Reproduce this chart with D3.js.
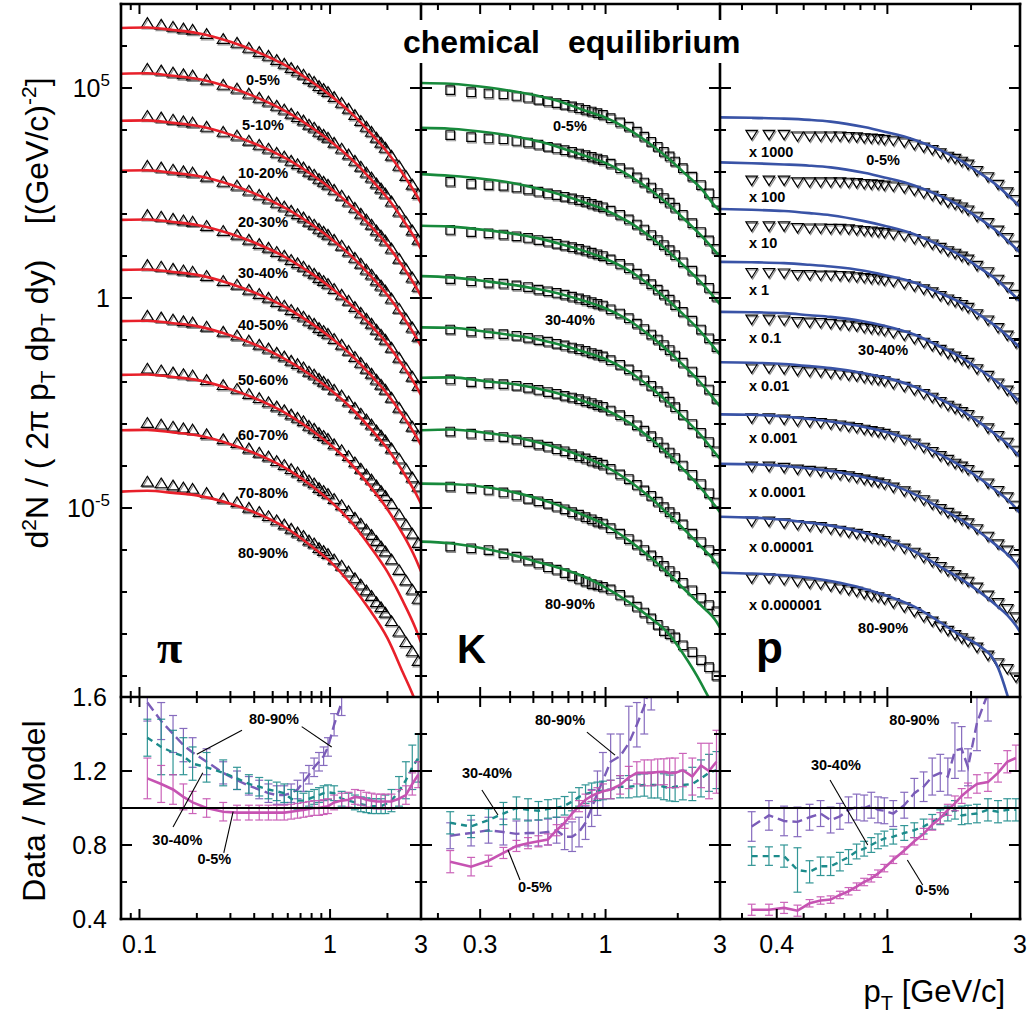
<!DOCTYPE html>
<html><head><meta charset="utf-8">
<script src="https://cdn.jsdelivr.net/npm/d3@7/dist/d3.min.js"></script>
<style>
html,body{margin:0;padding:0;background:#fff}
svg{display:block}
text{font-family:"Liberation Sans",Arial,Helvetica,sans-serif;fill:#000}
</style></head><body>
<svg id="chart" width="1031" height="1016"></svg>
<script>
// ================= DATA (spectra values stored as log10 of dN/(2pi pT dpT dy)) =================
const centralities = ["0-5%","5-10%","10-20%","20-30%","30-40%","40-50%","50-60%","60-70%","70-80%","80-90%"];
const pScaleFactors = ["x 1000","x 100","x 10","x 1","x 0.1","x 0.01","x 0.001","x 0.0001","x 0.00001","x 0.000001"];
const piTickLabels = [0.1, 1, 3];
const kTickLabels = [0.3, 1, 3];
const pTickLabels = [0.4, 1, 3];
const ratioTicks = [0.4, 0.8, 1.2, 1.6];
const spectraTickExp = [5, 0, -5];

const piPt = [0.11,0.13,0.15,0.17,0.19,0.225,0.275,0.325,0.375,0.425,0.475,0.525,0.575,0.625,0.675,0.725,0.775,0.825,0.875,0.925,0.975,1.05,1.15,1.25,1.35,1.45,1.55,1.65,1.75,1.85,1.95,2.1,2.3,2.5,2.7,2.9];
const kPt = [0.225,0.275,0.325,0.375,0.425,0.475,0.525,0.575,0.625,0.675,0.725,0.775,0.825,0.875,0.925,0.975,1.05,1.15,1.25,1.35,1.45,1.55,1.65,1.75,1.85,1.95,2.1,2.3,2.5,2.7,2.9];
const pPt = [0.325,0.375,0.425,0.475,0.525,0.575,0.625,0.675,0.725,0.775,0.825,0.875,0.925,0.975,1.05,1.15,1.25,1.35,1.45,1.55,1.65,1.75,1.85,1.95,2.1,2.3,2.5,2.7,2.9];

const piSpectra = [
 [6.52,6.48,6.43,6.39,6.36,6.26,6.14,6.05,5.93,5.83,5.74,5.64,5.55,5.45,5.37,5.29,5.19,5.12,5.02,4.95,4.88,4.76,4.62,4.48,4.33,4.19,4.05,3.93,3.79,3.67,3.55,3.36,3.12,2.88,2.67,2.45],
 [5.43,5.39,5.34,5.30,5.27,5.17,5.05,4.96,4.84,4.74,4.65,4.55,4.46,4.36,4.28,4.20,4.10,4.03,3.93,3.86,3.79,3.67,3.53,3.39,3.24,3.10,2.96,2.84,2.70,2.58,2.46,2.27,2.03,1.79,1.58,1.36],
 [4.31,4.27,4.22,4.18,4.15,4.05,3.93,3.84,3.72,3.62,3.53,3.43,3.34,3.24,3.16,3.08,2.98,2.91,2.81,2.74,2.67,2.55,2.41,2.27,2.12,1.98,1.84,1.72,1.58,1.46,1.34,1.15,0.91,0.67,0.46,0.24],
 [3.12,3.08,3.03,2.99,2.96,2.86,2.74,2.65,2.53,2.43,2.34,2.24,2.15,2.05,1.97,1.89,1.79,1.72,1.62,1.55,1.48,1.36,1.22,1.08,0.93,0.79,0.65,0.53,0.39,0.27,0.15,-0.04,-0.28,-0.52,-0.73,-0.95],
 [1.95,1.91,1.86,1.82,1.79,1.69,1.57,1.48,1.36,1.26,1.17,1.07,0.98,0.88,0.80,0.72,0.62,0.55,0.45,0.38,0.31,0.19,0.05,-0.09,-0.24,-0.38,-0.52,-0.64,-0.78,-0.90,-1.02,-1.21,-1.45,-1.69,-1.90,-2.12],
 [0.76,0.72,0.67,0.63,0.60,0.50,0.38,0.29,0.17,0.07,-0.02,-0.12,-0.21,-0.31,-0.39,-0.47,-0.57,-0.64,-0.74,-0.81,-0.88,-1.00,-1.14,-1.28,-1.43,-1.57,-1.71,-1.83,-1.97,-2.09,-2.21,-2.40,-2.64,-2.88,-3.09,-3.31],
 [-0.45,-0.49,-0.54,-0.58,-0.61,-0.71,-0.83,-0.92,-1.04,-1.14,-1.23,-1.33,-1.42,-1.52,-1.60,-1.68,-1.78,-1.85,-1.95,-2.02,-2.09,-2.21,-2.35,-2.49,-2.64,-2.78,-2.92,-3.04,-3.18,-3.30,-3.42,-3.61,-3.85,-4.09,-4.30,-4.52],
 [-1.71,-1.75,-1.80,-1.84,-1.87,-1.98,-2.10,-2.19,-2.31,-2.41,-2.51,-2.61,-2.70,-2.80,-2.88,-2.96,-3.07,-3.14,-3.24,-3.31,-3.38,-3.51,-3.65,-3.79,-3.94,-4.09,-4.23,-4.35,-4.49,-4.62,-4.74,-4.93,-5.18,-5.42,-5.64,-5.86],
 [-3.00,-3.04,-3.09,-3.13,-3.16,-3.27,-3.39,-3.48,-3.61,-3.71,-3.80,-3.91,-4.00,-4.10,-4.18,-4.27,-4.37,-4.44,-4.55,-4.62,-4.69,-4.81,-4.96,-5.10,-5.26,-5.40,-5.54,-5.67,-5.81,-5.94,-6.06,-6.25,-6.50,-6.75,-6.97,-7.19],
 [-4.40,-4.44,-4.49,-4.54,-4.57,-4.67,-4.80,-4.89,-5.02,-5.12,-5.22,-5.32,-5.42,-5.52,-5.61,-5.69,-5.80,-5.87,-5.98,-6.05,-6.12,-6.25,-6.40,-6.54,-6.70,-6.85,-6.99,-7.12,-7.27,-7.39,-7.52,-7.72,-7.97,-8.22,-8.44,-8.67]
];
const kSpectra = [
 [4.95,4.90,4.87,4.85,4.81,4.77,4.72,4.68,4.64,4.60,4.56,4.52,4.48,4.44,4.40,4.36,4.28,4.18,4.08,3.96,3.84,3.72,3.60,3.48,3.37,3.25,3.09,2.89,2.69,2.49,2.29],
 [3.88,3.83,3.80,3.78,3.74,3.70,3.65,3.60,3.56,3.52,3.48,3.44,3.40,3.36,3.32,3.28,3.20,3.09,2.99,2.87,2.75,2.63,2.50,2.38,2.27,2.15,1.98,1.78,1.57,1.37,1.17],
 [2.77,2.72,2.69,2.67,2.63,2.58,2.53,2.49,2.45,2.41,2.37,2.33,2.29,2.24,2.20,2.16,2.08,1.98,1.87,1.75,1.63,1.50,1.38,1.26,1.14,1.02,0.85,0.65,0.44,0.24,0.03],
 [1.62,1.57,1.54,1.51,1.47,1.43,1.38,1.34,1.29,1.25,1.21,1.17,1.13,1.08,1.04,1.00,0.92,0.81,0.71,0.58,0.45,0.33,0.20,0.08,-0.04,-0.17,-0.33,-0.54,-0.75,-0.96,-1.17],
 [0.45,0.40,0.36,0.34,0.30,0.26,0.20,0.16,0.12,0.08,0.03,-0.01,-0.05,-0.10,-0.14,-0.18,-0.27,-0.37,-0.48,-0.61,-0.74,-0.87,-0.99,-1.12,-1.24,-1.37,-1.54,-1.75,-1.97,-2.18,-2.40],
 [-0.75,-0.80,-0.84,-0.86,-0.90,-0.95,-1.00,-1.04,-1.09,-1.13,-1.18,-1.22,-1.26,-1.31,-1.35,-1.39,-1.48,-1.59,-1.70,-1.83,-1.96,-2.09,-2.22,-2.35,-2.47,-2.60,-2.78,-3.00,-3.21,-3.43,-3.65],
 [-1.94,-2.00,-2.03,-2.05,-2.09,-2.14,-2.19,-2.24,-2.28,-2.33,-2.37,-2.41,-2.46,-2.50,-2.55,-2.59,-2.68,-2.79,-2.90,-3.03,-3.16,-3.29,-3.43,-3.56,-3.68,-3.81,-3.99,-4.21,-4.43,-4.65,-4.87],
 [-3.18,-3.23,-3.27,-3.31,-3.37,-3.43,-3.49,-3.54,-3.60,-3.65,-3.72,-3.77,-3.82,-3.88,-3.92,-3.97,-4.07,-4.20,-4.31,-4.45,-4.58,-4.71,-4.85,-4.98,-5.10,-5.22,-5.39,-5.61,-5.81,-6.00,-6.19],
 [-4.49,-4.53,-4.57,-4.63,-4.70,-4.78,-4.84,-4.90,-4.97,-5.03,-5.10,-5.16,-5.22,-5.27,-5.33,-5.37,-5.48,-5.61,-5.74,-5.87,-6.00,-6.13,-6.26,-6.38,-6.50,-6.62,-6.78,-6.96,-7.14,-7.31,-7.46],
 [-5.92,-5.96,-6.00,-6.08,-6.16,-6.25,-6.32,-6.41,-6.47,-6.55,-6.62,-6.69,-6.75,-6.81,-6.84,-6.88,-6.94,-7.07,-7.20,-7.35,-7.49,-7.63,-7.78,-7.93,-8.00,-8.08,-8.27,-8.43,-8.62,-8.79,-8.99]
];
const pSpectra = [
 [3.92,3.92,3.92,3.88,3.88,3.88,3.88,3.88,3.87,3.86,3.84,3.83,3.82,3.80,3.78,3.74,3.68,3.62,3.56,3.48,3.40,3.35,3.28,3.21,3.06,2.91,2.73,2.55,2.37],
 [2.83,2.83,2.83,2.79,2.79,2.79,2.79,2.79,2.78,2.77,2.75,2.74,2.73,2.71,2.69,2.65,2.59,2.53,2.47,2.39,2.31,2.26,2.19,2.12,1.97,1.82,1.64,1.46,1.28],
 [1.74,1.74,1.74,1.70,1.69,1.69,1.68,1.68,1.67,1.65,1.63,1.62,1.60,1.58,1.55,1.51,1.44,1.38,1.31,1.23,1.15,1.09,1.02,0.95,0.80,0.65,0.47,0.29,0.11],
 [0.63,0.63,0.62,0.58,0.58,0.57,0.57,0.56,0.55,0.53,0.51,0.49,0.48,0.45,0.42,0.37,0.31,0.24,0.17,0.08,0.00,-0.06,-0.13,-0.20,-0.35,-0.50,-0.68,-0.86,-1.04],
 [-0.48,-0.48,-0.50,-0.54,-0.55,-0.56,-0.58,-0.60,-0.62,-0.64,-0.68,-0.70,-0.72,-0.75,-0.80,-0.86,-0.94,-1.03,-1.11,-1.20,-1.29,-1.36,-1.44,-1.51,-1.66,-1.82,-2.00,-2.17,-2.35],
 [-1.64,-1.64,-1.66,-1.70,-1.72,-1.73,-1.76,-1.78,-1.81,-1.83,-1.87,-1.90,-1.92,-1.95,-2.01,-2.08,-2.16,-2.25,-2.34,-2.44,-2.53,-2.60,-2.68,-2.75,-2.90,-3.07,-3.25,-3.41,-3.60],
 [-2.83,-2.83,-2.86,-2.90,-2.92,-2.94,-2.97,-3.00,-3.03,-3.06,-3.10,-3.13,-3.16,-3.20,-3.26,-3.34,-3.43,-3.53,-3.63,-3.73,-3.82,-3.91,-3.98,-4.06,-4.20,-4.38,-4.56,-4.71,-4.91],
 [-3.98,-3.98,-4.01,-4.05,-4.08,-4.10,-4.14,-4.18,-4.21,-4.25,-4.29,-4.33,-4.36,-4.40,-4.48,-4.57,-4.67,-4.78,-4.88,-4.99,-5.08,-5.17,-5.25,-5.33,-5.47,-5.65,-5.83,-5.98,-6.18],
 [-5.29,-5.29,-5.33,-5.37,-5.40,-5.42,-5.47,-5.51,-5.55,-5.58,-5.63,-5.68,-5.71,-5.75,-5.84,-5.93,-6.03,-6.15,-6.25,-6.37,-6.47,-6.56,-6.64,-6.72,-6.86,-7.05,-7.23,-7.37,-7.57],
 [-6.64,-6.64,-6.68,-6.72,-6.76,-6.78,-6.83,-6.88,-6.92,-6.96,-7.01,-7.06,-7.09,-7.14,-7.23,-7.33,-7.44,-7.56,-7.67,-7.79,-7.89,-7.99,-8.07,-8.15,-8.29,-8.48,-8.66,-8.80,-9.00]
];

// model (chemical equilibrium) curves, log10 values
const piModelPt = [0.08,0.11,0.15,0.2,0.3,0.4,0.6,0.8,1.0,1.3,1.6,2.0,2.4,2.8,3.0];
const kModelPt = [0.17,0.225,0.325,0.425,0.525,0.625,0.825,0.975,1.25,1.55,1.85,2.1,2.5,2.9,3.0];
const pModelPt = [0.25,0.325,0.425,0.525,0.625,0.825,0.975,1.25,1.55,1.85,2.1,2.5,2.7,2.9,3.0];
const piModel = [
 [6.43,6.44,6.38,6.31,6.10,5.89,5.51,5.15,4.83,4.39,3.97,3.47,2.97,2.50,2.26],
 [5.34,5.35,5.29,5.22,5.01,4.80,4.42,4.06,3.74,3.30,2.88,2.38,1.88,1.41,1.17],
 [4.22,4.23,4.17,4.10,3.89,3.68,3.30,2.94,2.62,2.18,1.76,1.26,0.76,0.29,0.05],
 [3.03,3.04,2.98,2.91,2.70,2.49,2.11,1.75,1.43,0.99,0.57,0.07,-0.43,-0.90,-1.14],
 [1.86,1.87,1.81,1.74,1.53,1.32,0.94,0.58,0.26,-0.18,-0.60,-1.10,-1.60,-2.07,-2.31],
 [0.67,0.68,0.62,0.55,0.34,0.13,-0.25,-0.61,-0.93,-1.37,-1.79,-2.29,-2.79,-3.26,-3.50],
 [-0.55,-0.54,-0.60,-0.67,-0.89,-1.10,-1.49,-1.85,-2.18,-2.63,-3.07,-3.59,-4.12,-4.63,-4.90],
 [-1.83,-1.82,-1.88,-1.95,-2.17,-2.38,-2.77,-3.15,-3.49,-3.97,-4.45,-5.03,-5.61,-6.19,-6.51],
 [-3.15,-3.14,-3.20,-3.27,-3.48,-3.69,-4.08,-4.47,-4.83,-5.35,-5.88,-6.52,-7.20,-7.85,-8.20],
 [-4.61,-4.59,-4.64,-4.70,-4.90,-5.10,-5.50,-5.91,-6.27,-6.85,-7.40,-8.10,-8.90,-9.60,-10.00]
];
const kModel = [
 [5.12,5.10,5.01,4.91,4.81,4.70,4.46,4.32,4.01,3.65,3.30,3.01,2.61,2.15,2.07],
 [4.05,4.03,3.94,3.84,3.73,3.61,3.38,3.24,2.92,2.56,2.20,1.91,1.49,1.08,0.98],
 [2.95,2.91,2.82,2.72,2.60,2.49,2.27,2.12,1.81,1.44,1.08,0.79,0.37,-0.05,-0.15],
 [1.72,1.70,1.61,1.52,1.42,1.31,1.11,0.96,0.66,0.28,-0.09,-0.38,-0.81,-1.25,-1.35],
 [0.52,0.49,0.39,0.30,0.21,0.12,-0.08,-0.22,-0.53,-0.92,-1.29,-1.59,-2.03,-2.48,-2.58],
 [-0.70,-0.71,-0.81,-0.90,-0.99,-1.09,-1.29,-1.43,-1.75,-2.14,-2.52,-2.83,-3.27,-3.73,-3.83],
 [-1.90,-1.89,-1.99,-2.06,-2.16,-2.26,-2.47,-2.63,-2.96,-3.36,-3.75,-4.07,-4.53,-4.99,-5.10],
 [-3.15,-3.13,-3.22,-3.32,-3.44,-3.56,-3.80,-3.98,-4.35,-4.77,-5.18,-5.48,-5.92,-6.32,-6.45],
 [-4.42,-4.43,-4.51,-4.64,-4.78,-4.92,-5.19,-5.37,-5.77,-6.19,-6.59,-6.90,-7.32,-7.71,-7.85],
 [-5.80,-5.84,-5.99,-6.14,-6.29,-6.41,-6.65,-6.86,-7.24,-7.63,-8.02,-8.46,-9.17,-9.93,-10.17]
];
const pModel = [
 [4.30,4.29,4.27,4.24,4.20,4.07,3.96,3.77,3.52,3.26,3.02,2.66,2.46,2.27,2.18],
 [3.23,3.21,3.18,3.15,3.11,2.98,2.87,2.68,2.43,2.17,1.93,1.57,1.37,1.18,1.09],
 [2.12,2.10,2.07,2.02,1.97,1.83,1.72,1.52,1.25,1.00,0.76,0.41,0.21,0.02,-0.07],
 [0.86,0.85,0.83,0.79,0.75,0.65,0.55,0.37,0.11,-0.12,-0.36,-0.71,-0.90,-1.09,-1.18],
 [-0.33,-0.34,-0.36,-0.41,-0.45,-0.56,-0.66,-0.87,-1.16,-1.42,-1.66,-2.01,-2.19,-2.38,-2.47],
 [-1.53,-1.54,-1.57,-1.62,-1.67,-1.79,-1.89,-2.11,-2.41,-2.68,-2.92,-3.29,-3.47,-3.68,-3.78],
 [-2.77,-2.78,-2.82,-2.88,-2.94,-3.07,-3.18,-3.42,-3.73,-4.01,-4.25,-4.62,-4.80,-5.00,-5.12],
 [-3.95,-3.96,-4.00,-4.06,-4.12,-4.27,-4.39,-4.67,-5.00,-5.29,-5.53,-5.92,-6.10,-6.32,-6.45],
 [-5.21,-5.23,-5.28,-5.35,-5.42,-5.59,-5.73,-6.03,-6.40,-6.70,-6.95,-7.35,-7.55,-7.80,-7.95],
 [-6.54,-6.56,-6.60,-6.66,-6.74,-6.92,-7.07,-7.35,-7.72,-8.05,-8.24,-8.80,-9.45,-10.2,-10.6]
];

// Data / Model ratios (value, error)
const piRatio05 = [1.16,1.13,1.10,1.06,1.03,1.00,0.98,0.975,0.975,0.975,0.975,0.975,0.975,0.98,0.985,0.99,0.995,1.0,1.0,1.005,1.01,1.03,1.04,1.045,1.06,1.055,1.045,1.04,1.035,1.035,1.035,1.035,1.05,1.07,1.13,1.18];
const piErr05 = [0.11,0.10,0.08,0.07,0.06,0.05,0.05,0.04,0.04,0.04,0.04,0.04,0.04,0.04,0.04,0.04,0.04,0.04,0.04,0.04,0.04,0.04,0.04,0.04,0.04,0.04,0.04,0.04,0.04,0.04,0.04,0.04,0.05,0.05,0.06,0.07];
const piRatio3040 = [1.38,1.33,1.30,1.28,1.24,1.22,1.19,1.16,1.13,1.115,1.10,1.09,1.08,1.05,1.04,1.04,1.05,1.06,1.07,1.08,1.085,1.08,1.05,1.04,1.03,1.02,1.015,1.01,1.01,1.01,1.02,1.04,1.09,1.15,1.22,1.27];
const piErr3040 = [0.10,0.15,0.12,0.10,0.09,0.08,0.07,0.06,0.05,0.05,0.05,0.05,0.05,0.05,0.05,0.04,0.04,0.04,0.04,0.04,0.04,0.04,0.04,0.04,0.04,0.04,0.04,0.04,0.04,0.04,0.05,0.06,0.08,0.10,0.12,0.13];
const piRatio8090 = [1.57,1.47,1.40,1.34,1.30,1.25,1.19,1.15,1.12,1.10,1.08,1.07,1.07,1.08,1.10,1.14,1.18,1.22,1.25,1.28,1.33,1.45,1.57];
const piErr8090 = [0.10,0.10,0.10,0.09,0.08,0.07,0.06,0.05,0.05,0.05,0.05,0.05,0.05,0.05,0.05,0.05,0.05,0.05,0.05,0.05,0.05,0.06,0.07];
const kRatio05 = [0.71,0.683,0.715,0.757,0.795,0.81,0.82,0.83,0.88,0.92,0.97,1.01,1.045,1.065,1.08,1.09,1.10,1.125,1.165,1.19,1.19,1.19,1.195,1.196,1.19,1.19,1.205,1.17,1.23,1.20,1.25];
const kErr05 = [0.06,0.05,0.03,0.03,0.03,0.03,0.03,0.03,0.03,0.03,0.03,0.03,0.03,0.03,0.03,0.04,0.05,0.05,0.06,0.06,0.07,0.07,0.07,0.07,0.08,0.08,0.09,0.10,0.12,0.15,0.17];
const kRatio3040 = [0.92,0.90,0.935,0.97,1.0,0.99,0.985,0.995,1.0,1.012,1.035,1.06,1.075,1.085,1.09,1.095,1.10,1.115,1.115,1.12,1.124,1.124,1.124,1.115,1.108,1.115,1.124,1.13,1.16,1.19,1.205];
const kErr3040 = [0.06,0.06,0.06,0.06,0.06,0.06,0.05,0.05,0.05,0.05,0.05,0.05,0.05,0.05,0.05,0.05,0.05,0.06,0.06,0.06,0.06,0.07,0.07,0.07,0.07,0.08,0.08,0.09,0.10,0.10,0.10];
const kRatio8090 = [0.85,0.865,0.88,0.87,0.86,0.865,0.865,0.87,0.88,0.845,0.845,0.87,0.92,1.0,1.08,1.15,1.25,1.28,1.35,1.45,1.55,1.68];
const kErr8090 = [0.07,0.07,0.07,0.07,0.07,0.07,0.07,0.07,0.07,0.07,0.08,0.08,0.09,0.10,0.12,0.15,0.15,0.12,0.20,0.12,0.15,0.15];
const pRatio05 = [0.45,0.45,0.46,0.445,0.485,0.50,0.505,0.53,0.55,0.575,0.60,0.62,0.645,0.675,0.72,0.77,0.82,0.86,0.91,0.945,0.99,1.025,1.065,1.095,1.13,1.14,1.19,1.25,1.27];
const pErr05 = [0.03,0.03,0.03,0.03,0.02,0.02,0.02,0.02,0.02,0.02,0.02,0.02,0.02,0.02,0.02,0.02,0.02,0.03,0.03,0.03,0.03,0.04,0.04,0.04,0.05,0.05,0.05,0.06,0.07];
const pRatio3040 = [0.74,0.74,0.74,0.665,0.655,0.685,0.685,0.71,0.735,0.765,0.78,0.80,0.82,0.835,0.845,0.865,0.88,0.90,0.925,0.95,0.97,0.99,0.96,0.965,0.97,0.99,0.98,0.99,0.99];
const pErr3040 = [0.05,0.05,0.06,0.12,0.06,0.05,0.05,0.05,0.04,0.04,0.04,0.04,0.04,0.04,0.04,0.04,0.04,0.04,0.04,0.04,0.04,0.05,0.05,0.05,0.05,0.06,0.06,0.06,0.06];
const pRatio8090 = [0.90,0.96,0.93,0.925,0.95,0.97,0.935,0.955,0.99,1.005,1.0,1.015,0.99,0.985,0.97,1.015,1.08,1.115,1.17,1.19,1.17,1.31,1.32,1.22,1.46,1.62];
const pErr8090 = [0.08,0.08,0.08,0.08,0.07,0.07,0.07,0.07,0.07,0.07,0.07,0.07,0.07,0.07,0.07,0.07,0.08,0.08,0.10,0.10,0.10,0.15,0.12,0.10,0.15,0.15];

// label anchors in data coordinates
const piLabelPt = 0.445, piLabelLog = [5.19,4.12,2.98,1.81,0.60,-0.64,-1.95,-3.26,-4.64,-6.07];
const kLabelPt = 0.71, kLabelIdx = [0,4,9], kLabelLog = [4.10,-0.52,-7.29];
const pLabelPt = 0.965, pLabelIdx = [0,4,9], pLabelLog = [3.29,-1.24,-7.86];
const pScalePt = 0.318, pScaleLog = [3.48,2.40,1.31,0.19,-0.95,-2.10,-3.33,-4.62,-5.93,-7.31];
// ratio panel labels [pT, ratio, text] and leader lines [pT1,r1,pT2,r2]
const piRatioLabels = [[0.508,1.48,"80-90%"],[0.158,0.827,"30-40%"],[0.247,0.724,"0-5%"]];
const piLeaders = [[0.345,1.42,0.20,1.29],[0.71,1.44,1.02,1.33],[0.15,0.897,0.215,1.19],[0.277,0.757,0.31,0.98]];
const kRatioLabels = [[0.646,1.476,"80-90%"],[0.32,1.19,"30-40%"],[0.508,0.573,"0-5%"]];
const kLeaders = [[0.836,1.41,1.095,1.286],[0.305,1.097,0.356,0.962],[0.44,0.611,0.392,0.773]];
const pRatioLabels = [[1.25,1.476,"80-90%"],[0.653,1.232,"30-40%"],[1.45,0.557,"0-5%"]];
const pLeaders = [[0.622,1.151,0.85,0.80],[1.34,0.584,1.18,0.719]];

// ================= DRAWING =================
const svg = d3.select('#chart');
const Y_TOP = 4, Y_MID = 697, Y_BOT = 919;
const yU = d3.scaleLog().domain([Math.pow(10,-9.5), 1e7]).range([Y_MID, Y_TOP]);
const yL = d3.scaleLinear().domain([0.4, 1.6]).range([Y_BOT, Y_MID]);
const P10 = v => Math.pow(10, v);
const PINK = '#c653b2', TEAL = '#1c8b8b', PURP = '#7a5cb8';

const panels = [
 {x0:121, x1:421, dom:[0.08,3], major:piTickLabels, pt:piPt, spectra:piSpectra, mpt:piModelPt, model:piModel, color:'#e8202a', marker:'up',
  ratios:[[piPt,piRatio8090,piErr8090,PURP,'10,5'],[piPt,piRatio3040,piErr3040,TEAL,'6,5'],[piPt,piRatio05,piErr05,PINK,null]],
  rlabels:piRatioLabels, leaders:piLeaders, letter:'\u03c0', letterFont:'"Liberation Serif","Times New Roman",serif', letterSize:46},
 {x0:421, x1:720, dom:[0.17,3], major:kTickLabels, pt:kPt, spectra:kSpectra, mpt:kModelPt, model:kModel, color:'#17893b', marker:'sq',
  ratios:[[kPt,kRatio8090,kErr8090,PURP,'10,5'],[kPt,kRatio3040,kErr3040,TEAL,'6,5'],[kPt,kRatio05,kErr05,PINK,null]],
  rlabels:kRatioLabels, leaders:kLeaders, letter:'K', letterFont:'"Liberation Sans",Arial,sans-serif', letterSize:40},
 {x0:720, x1:1020, dom:[0.25,3], major:pTickLabels, pt:pPt, spectra:pSpectra, mpt:pModelPt, model:pModel, color:'#3953a6', marker:'dn',
  ratios:[[pPt,pRatio8090,pErr8090,PURP,'10,5'],[pPt,pRatio3040,pErr3040,TEAL,'6,5'],[pPt,pRatio05,pErr05,PINK,null]],
  rlabels:pRatioLabels, leaders:pLeaders, letter:'p', letterFont:'"Liberation Sans",Arial,sans-serif', letterSize:44}
];
const markerPaths = {
  up: 'M0,-6.5L6,3.3L-6,3.3Z',
  sq: 'M-4.3,-4.3H4.3V4.3H-4.3Z',
  dn: 'M-5.8,-3L5.8,-3L0,6.2Z'
};
const defs = svg.append('defs');

panels.forEach((P, pi) => {
  const x = d3.scaleLog().domain(P.dom).range([P.x0, P.x1]);
  P.x = x;
  defs.append('clipPath').attr('id','cu'+pi).append('rect')
    .attr('x',P.x0).attr('y',Y_TOP).attr('width',P.x1-P.x0).attr('height',Y_MID-Y_TOP);
  defs.append('clipPath').attr('id','cl'+pi).append('rect')
    .attr('x',P.x0).attr('y',Y_MID).attr('width',P.x1-P.x0).attr('height',Y_BOT-Y_MID);

  // ---- upper: data markers
  const gU = svg.append('g').attr('clip-path','url(#cu'+pi+')');
  P.spectra.forEach(series => {
    const pts = series.map((v,i)=>({pt:P.pt[i], v}));
    gU.append('g').selectAll('path').data(pts).join('path')
      .attr('d', markerPaths[P.marker])
      .attr('transform', d=>`translate(${x(d.pt)+1},${yU(P10(d.v))+1.4})`)
      .attr('fill','none').attr('stroke','#8f8f8f').attr('stroke-width',1.2);
    gU.append('g').selectAll('path').data(pts).join('path')
      .attr('d', markerPaths[P.marker])
      .attr('transform', d=>`translate(${x(d.pt)},${yU(P10(d.v))})`)
      .attr('fill','none').attr('stroke','#000').attr('stroke-width',1.15);
  });
  // ---- upper: model curves
  const line = d3.line().x(d=>x(d[0])).y(d=>yU(P10(d[1]))).curve(d3.curveMonotoneX);
  P.model.forEach(m => {
    gU.append('path').datum(m.map((v,i)=>[P.mpt[i], v]))
      .attr('d', line).attr('fill','none').attr('stroke',P.color).attr('stroke-width',2.6);
  });

  // ---- lower: ratios
  const gL = svg.append('g').attr('clip-path','url(#cl'+pi+')');
  P.ratios.forEach(([pts, vals, errs, col, dash]) => {
    const d = vals.map((v,i)=>({pt:pts[i], v, e:errs[i]}));
    const gE = gL.append('g').attr('stroke',col).attr('stroke-width',1.2).attr('opacity',0.9);
    d.forEach(o => {
      const X = x(o.pt), ya = yL(o.v - o.e), yb = yL(o.v + o.e);
      gE.append('line').attr('x1',X).attr('x2',X).attr('y1',ya).attr('y2',yb);
      gE.append('line').attr('x1',X-4).attr('x2',X+4).attr('y1',ya).attr('y2',ya);
      gE.append('line').attr('x1',X-4).attr('x2',X+4).attr('y1',yb).attr('y2',yb);
    });
    gL.append('path').datum(d)
      .attr('d', d3.line().x(o=>x(o.pt)).y(o=>yL(o.v)))
      .attr('fill','none').attr('stroke',col).attr('stroke-width', dash ? 2.4 : 2.6)
      .attr('stroke-dasharray', dash);
  });
});

// ---- ratio = 1 reference line
svg.append('line').attr('x1',121).attr('x2',1020).attr('y1',yL(1)).attr('y2',yL(1))
  .attr('stroke','#000').attr('stroke-width',2);

// ---- frames and ticks
const gAx = svg.append('g').attr('stroke','#000');
panels.forEach(P => {
  const x = P.x;
  const ticks = x.ticks().filter(t => t > P.dom[0]*1.001 && t < P.dom[1]*0.999);
  ticks.forEach(t => {
    const major = P.major.some(m => Math.abs(m - t) < 1e-9);
    const len = major ? 10 : 6;
    const X = x(t);
    [[Y_TOP, 1],[Y_MID, -1],[Y_MID, 1],[Y_BOT, -1]].forEach(([y0, dir]) => {
      gAx.append('line').attr('x1',X).attr('x2',X).attr('y1',y0).attr('y2',y0+dir*len).attr('stroke-width',2);
    });
  });
  d3.range(-9, 7).forEach(e => {
    const Y = yU(P10(e));
    const len = spectraTickExp.includes(e) ? 11 : 6;
    gAx.append('line').attr('x1',P.x0).attr('x2',P.x0+len).attr('y1',Y).attr('y2',Y).attr('stroke-width',2);
    gAx.append('line').attr('x1',P.x1).attr('x2',P.x1-len).attr('y1',Y).attr('y2',Y).attr('stroke-width',2);
  });
  [0.6, 0.8, 1.0, 1.2, 1.4].forEach(v => {
    const Y = yL(v);
    const len = ratioTicks.includes(v) ? 11 : 6;
    gAx.append('line').attr('x1',P.x0).attr('x2',P.x0+len).attr('y1',Y).attr('y2',Y).attr('stroke-width',2);
    gAx.append('line').attr('x1',P.x1).attr('x2',P.x1-len).attr('y1',Y).attr('y2',Y).attr('stroke-width',2);
  });
  P.major.forEach(t => {
    svg.append('text').attr('x', x(t)).attr('y', 953).attr('text-anchor','middle')
      .attr('font-size',25).text(String(t));
  });
});
[[121,Y_TOP,1020,Y_TOP],[121,Y_MID,1020,Y_MID],[121,Y_BOT,1020,Y_BOT],
 [121,Y_TOP,121,Y_BOT],[421,Y_TOP,421,Y_BOT],[720,Y_TOP,720,Y_BOT],[1020,Y_TOP,1020,Y_BOT]].forEach(([a,b,c,d]) => {
  gAx.append('line').attr('x1',a).attr('y1',b).attr('x2',c).attr('y2',d).attr('stroke-width',2.6).attr('stroke-linecap','square');
});

// ---- y tick labels
spectraTickExp.forEach(e => {
  const t = svg.append('text').attr('x',110).attr('y', yU(P10(e)) + 9).attr('text-anchor','end').attr('font-size',25);
  if (e === 0) { t.text('1'); }
  else {
    t.append('tspan').text('10');
    t.append('tspan').attr('font-size',17).attr('dy',-11).text(String(e));
  }
});
ratioTicks.forEach(v => {
  svg.append('text').attr('x',107).attr('y', yL(v) + 9).attr('text-anchor','end').attr('font-size',25).text(v.toFixed(1));
});

// ---- upper panel labels
const bold = sel => sel.attr('font-weight','bold');
centralities.forEach((c,i) => {
  bold(svg.append('text')).attr('x', panels[0].x(piLabelPt)).attr('y', yU(P10(piLabelLog[i])) + 5)
    .attr('text-anchor','middle').attr('font-size',14.5).text(c);
});
kLabelIdx.forEach((ci,j) => {
  bold(svg.append('text')).attr('x', panels[1].x(kLabelPt)).attr('y', yU(P10(kLabelLog[j])) + 5)
    .attr('text-anchor','middle').attr('font-size',14.5).text(centralities[ci]);
});
pLabelIdx.forEach((ci,j) => {
  bold(svg.append('text')).attr('x', panels[2].x(pLabelPt)).attr('y', yU(P10(pLabelLog[j])) + 5)
    .attr('text-anchor','middle').attr('font-size',14.5).text(centralities[ci]);
});
pScaleFactors.forEach((s,i) => {
  bold(svg.append('text')).attr('x', panels[2].x(pScalePt)).attr('y', yU(P10(pScaleLog[i])) + 5)
    .attr('font-size',14.5).text(s);
});

// ---- lower panel labels and leader lines
panels.forEach(P => {
  P.leaders.forEach(([a,b,c,d]) => {
    svg.append('line').attr('x1',P.x(a)).attr('y1',yL(b)).attr('x2',P.x(c)).attr('y2',yL(d))
      .attr('stroke','#000').attr('stroke-width',1.1);
  });
  P.rlabels.forEach(([pt, r, txt]) => {
    bold(svg.append('text')).attr('x',P.x(pt)).attr('y',yL(r)+5).attr('text-anchor','middle')
      .attr('font-size',14.5).text(txt);
  });
  svg.append('text').attr('x', P.x0 + 36).attr('y', 663).attr('font-size', P.letterSize)
    .attr('font-weight','bold').style('font-family', P.letterFont).text(P.letter);
});

// ---- title with white background
svg.append('rect').attr('x',393).attr('y',20).attr('width',356).attr('height',43).attr('fill','#fff');
const title = bold(svg.append('text')).attr('y',53).attr('font-size',32);
title.append('tspan').attr('x',403).text('chemical');
title.append('tspan').attr('x',568).text('equilibrium');

// ---- axis titles
const yt = svg.append('text').attr('transform','translate(48,313) rotate(-90)').attr('text-anchor','middle')
  .attr('font-size',32).style('white-space','pre');
yt.append('tspan').text('d');
yt.append('tspan').attr('font-size',21).attr('dy',-12).text('2');
yt.append('tspan').attr('dy',12).text('N / ( 2\u03c0 p');
yt.append('tspan').attr('font-size',21).attr('dy',7).text('T');
yt.append('tspan').attr('dy',-7).text(' dp');
yt.append('tspan').attr('font-size',21).attr('dy',7).text('T');
yt.append('tspan').attr('dy',-7).text(' dy)    [(GeV/c)');
yt.append('tspan').attr('font-size',21).attr('dy',-12).text('-2');
yt.append('tspan').attr('dy',12).text(']');

svg.append('text').attr('transform','translate(45,811) rotate(-90)').attr('text-anchor','middle')
  .attr('font-size',32).text('Data / Model');

const xt = svg.append('text').attr('x',1005).attr('y',1002).attr('text-anchor','end').attr('font-size',31);
xt.append('tspan').text('p');
xt.append('tspan').attr('font-size',20).attr('dy',8).text('T');
xt.append('tspan').attr('dy',-8).text(' [GeV/c]');
</script>
</body></html>
